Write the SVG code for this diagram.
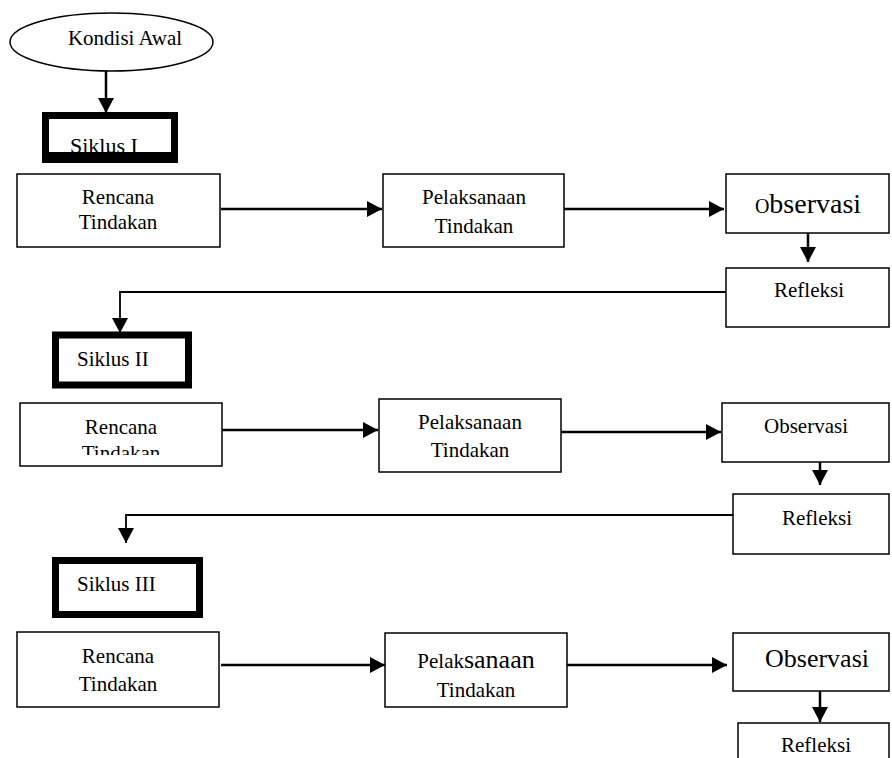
<svg xmlns="http://www.w3.org/2000/svg" width="892" height="758" viewBox="0 0 892 758">
<style>
.box{fill:#fff;stroke:#000;stroke-width:1.5}
.thick{fill:#fff;stroke:#000;stroke-width:7}
text{font-family:'Liberation Serif','Times New Roman','DejaVu Serif',serif;font-size:21px;fill:#000}
.c{text-anchor:middle}
.conn{fill:none;stroke:#000;stroke-width:2.5}
</style>
<defs>
<marker id="ah" markerUnits="userSpaceOnUse" markerWidth="16" markerHeight="16" refX="15" refY="8" orient="auto" viewBox="0 0 16 16">
<path d="M0,0 L15,8 L0,16 Z" fill="#000"/>
</marker>
<clipPath id="clipS1"><rect x="49" y="119" width="122" height="33"/></clipPath>
<clipPath id="clipR2"><rect x="20" y="403" width="202" height="52"/></clipPath>
<clipPath id="clipP3"><rect x="385" y="633" width="182" height="64"/></clipPath>
</defs>
<rect width="892" height="758" fill="#fff"/>

<g id="connectors">
<line class="conn" x1="106" y1="71" x2="106" y2="113" marker-end="url(#ah)"/>
<line class="conn" x1="221" y1="209" x2="382" y2="209" marker-end="url(#ah)"/>
<line class="conn" x1="563" y1="209" x2="724" y2="209" marker-end="url(#ah)"/>
<line class="conn" x1="808" y1="233" x2="808" y2="262" marker-end="url(#ah)"/>
<polyline class="conn" points="726,292 120,292 120,333" marker-end="url(#ah)" style="stroke-width:1.8"/>
<line class="conn" x1="217" y1="430" x2="378" y2="430" marker-end="url(#ah)"/>
<line class="conn" x1="558" y1="432" x2="721" y2="432" marker-end="url(#ah)"/>
<line class="conn" x1="820" y1="462" x2="820" y2="485" marker-end="url(#ah)"/>
<polyline class="conn" points="733,515 126,515 126,543" marker-end="url(#ah)" style="stroke-width:1.8"/>
<line class="conn" x1="221" y1="665" x2="385" y2="665" marker-end="url(#ah)"/>
<line class="conn" x1="567" y1="665" x2="727" y2="665" marker-end="url(#ah)"/>
<line class="conn" x1="820" y1="691" x2="820" y2="722" marker-end="url(#ah)"/>
</g>

<g id="kondisi-awal">
<ellipse cx="111.5" cy="42" rx="101.5" ry="29" class="box"/>
<text class="c" x="125" y="45">Kondisi Awal</text>
</g>

<g id="siklus-1">
<rect x="45.5" y="115.5" width="129" height="44" class="thick"/>
<text x="70" y="153" clip-path="url(#clipS1)" style="font-size:22px">Siklus I</text>
<rect x="42" y="152" width="136" height="11" fill="#000"/>
</g>

<g id="rencana-1">
<rect x="17" y="174" width="203" height="73" class="box"/>
<text class="c" x="118" y="204">Rencana</text>
<text class="c" x="118" y="229">Tindakan</text>
</g>

<g id="pelaksanaan-1">
<rect x="383" y="174" width="181" height="73" class="box"/>
<text class="c" x="474" y="204">Pelaksanaan</text>
<text class="c" x="474" y="233">Tindakan</text>
</g>

<g id="observasi-1">
<rect x="726" y="174" width="163" height="59" class="box"/>
<text class="c" x="808" y="213"><tspan style="font-size:20px">O</tspan><tspan style="font-size:28px">bservasi</tspan></text>
</g>

<g id="refleksi-1">
<rect x="726" y="268" width="163" height="59" class="box"/>
<text class="c" x="809" y="297">Refleksi</text>
</g>

<g id="siklus-2">
<rect x="55.5" y="335" width="133" height="50" class="thick"/>
<text x="77" y="366">Siklus II</text>
</g>

<g id="rencana-2">
<rect x="20" y="403" width="202" height="63" class="box"/>
<text class="c" x="121" y="434">Rencana</text>
<text class="c" x="121" y="460" clip-path="url(#clipR2)">Tindakan</text>
</g>

<g id="pelaksanaan-2">
<rect x="379" y="399" width="182" height="73" class="box"/>
<text class="c" x="470" y="429">Pelaksanaan</text>
<text class="c" x="470" y="457">Tindakan</text>
</g>

<g id="observasi-2">
<rect x="722" y="403" width="167" height="59" class="box"/>
<text class="c" x="806" y="433">Observasi</text>
</g>

<g id="refleksi-2">
<rect x="733" y="494" width="156" height="60" class="box"/>
<text class="c" x="817" y="525">Refleksi</text>
</g>

<g id="siklus-3">
<rect x="55.5" y="560.5" width="144" height="54" class="thick"/>
<text x="77" y="591">Siklus III</text>
</g>

<g id="rencana-3">
<rect x="17" y="632" width="202" height="75" class="box"/>
<text class="c" x="118" y="663">Rencana</text>
<text class="c" x="118" y="691">Tindakan</text>
</g>

<g id="pelaksanaan-3">
<rect x="385" y="633" width="182" height="74" class="box"/>
<text class="c" x="476" y="668"><tspan>Pelak</tspan><tspan style="font-size:26px">sanaan</tspan></text>
<text class="c" x="476" y="697" clip-path="url(#clipP3)">Tindakan</text>
</g>

<g id="observasi-3">
<rect x="733" y="633" width="156" height="58" class="box"/>
<text class="c" x="817" y="667" style="font-size:26px">Observasi</text>
</g>

<g id="refleksi-3">
<rect x="738" y="723" width="151" height="50" class="box"/>
<text class="c" x="816" y="752">Refleksi</text>
</g>
</svg>
